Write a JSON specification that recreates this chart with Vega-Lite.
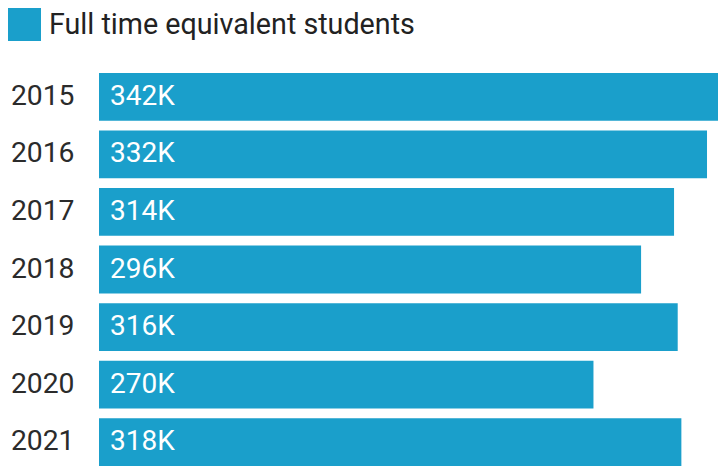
{
  "$schema": "https://vega.github.io/schema/vega-lite/v6.json",
  "autosize": {"type": "none"},
  "padding": {"left": 99, "top": 73, "right": 0, "bottom": 0},
  "width": 619,
  "height": 393,
  "background": "white",
  "config": {
    "view": {"stroke": null},
    "font": "Roboto",
    "legend": {"padding": 0}
  },
  "data": {
    "values": [
      {"year": "2015", "value": 342, "label": "342K", "series": "Full time equivalent students"},
      {"year": "2016", "value": 332, "label": "332K", "series": "Full time equivalent students"},
      {"year": "2017", "value": 314, "label": "314K", "series": "Full time equivalent students"},
      {"year": "2018", "value": 296, "label": "296K", "series": "Full time equivalent students"},
      {"year": "2019", "value": 316, "label": "316K", "series": "Full time equivalent students"},
      {"year": "2020", "value": 270, "label": "270K", "series": "Full time equivalent students"},
      {"year": "2021", "value": 318, "label": "318K", "series": "Full time equivalent students"}
    ]
  },
  "encoding": {
    "y": {
      "field": "year",
      "type": "nominal",
      "sort": null,
      "title": null,
      "scale": {"paddingInner": 0.17, "paddingOuter": 0},
      "axis": {
        "domain": false,
        "ticks": false,
        "labelFontSize": 28.3,
        "labelColor": "#2b2b2b",
        "labelPadding": 25,
        "labelFont": "Roboto"
      }
    }
  },
  "layer": [
    {
      "mark": {"type": "bar", "clip": true},
      "encoding": {
        "x": {
          "field": "value",
          "type": "quantitative",
          "scale": {"domain": [0, 338], "nice": false},
          "axis": null
        },
        "color": {
          "field": "series",
          "type": "nominal",
          "scale": {"range": ["#1a9fcb"]},
          "legend": {
            "title": null,
            "orient": "none",
            "legendX": -91,
            "legendY": -65,
            "symbolType": "square",
            "symbolSize": 1089,
            "symbolStrokeWidth": 0,
            "symbolOpacity": 1,
            "labelFontSize": 28.7,
            "labelColor": "#222222",
            "labelFont": "Roboto",
            "labelOffset": 8,
            "labelLimit": 600
          }
        }
      }
    },
    {
      "mark": {
        "type": "text",
        "align": "left",
        "baseline": "middle",
        "dx": 11,
        "fontSize": 28,
        "font": "Roboto",
        "color": "white"
      },
      "encoding": {
        "x": {"datum": 0, "type": "quantitative"},
        "text": {"field": "label"}
      }
    }
  ]
}
